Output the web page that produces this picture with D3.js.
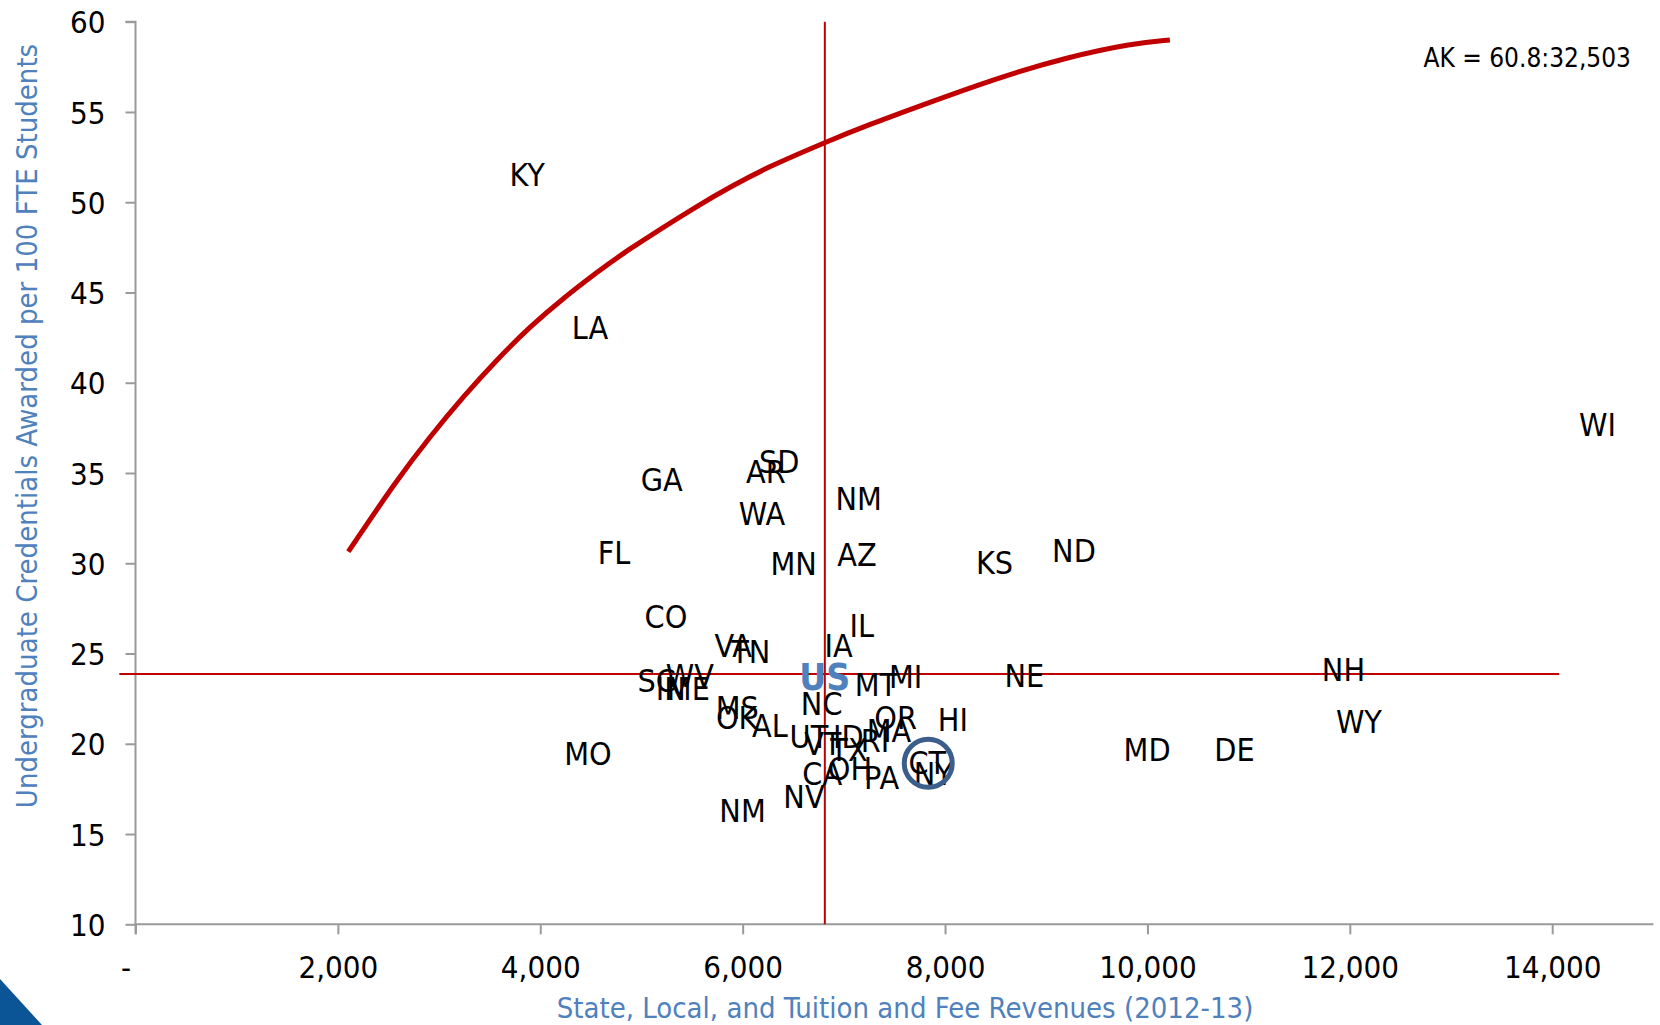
<!DOCTYPE html>
<html>
<head>
<meta charset="utf-8">
<script src="https://cdn.jsdelivr.net/npm/d3@7"></script>
<style>
  html, body { margin: 0; padding: 0; background: #ffffff; }
  svg { display: block; }
  text { font-family: "DejaVu Sans Condensed", "DejaVu Sans", sans-serif; }
</style>
</head>
<body>
<svg id="chart" width="1660" height="1025"></svg>
<script>
// ---- data ----
const states = ["KY","LA","GA","AR","SD","WA","NM","FL","MN","AZ","KS","ND","WI","CO","VA","TN","IL","IA",
  "MI","MT","NE","NH","WY","MD","DE","HI","OR","MA","RI","ID","UT","VT","TX","OH","CA","PA","CT","NY",
  "NV","NM","MO","NC","OK","MS","AL","SC","WV","IN","ME"];
const revenues = [3871,4491,5200,6230,6362,6191,7147,4728,6504,7129,8489,9274,14448,5242,5907,6080,7176,6949,
  7610,7317,8783,11937,12090,9997,10860,8078,7512,7446,7307,7044,6655,6792,7051,7060,6786,7373,7824,7884,
  6606,5999,4471,6781,5941,5947,6270,5151,5479,5289,5463];
const credentials = [51.53,43.07,34.65,35.08,35.63,32.77,33.60,30.61,30.00,30.46,30.04,30.69,37.71,27.04,25.47,25.10,26.54,25.47,
  23.72,23.26,23.81,24.09,21.22,19.66,19.66,21.32,21.47,20.73,20.21,20.39,20.43,20.03,19.66,18.64,18.33,18.14,18.95,18.33,
  17.07,16.33,19.47,22.24,21.47,22.02,21.04,23.53,23.77,23.04,23.04];

const usLabel = "US";
const usRevenue = 6812;
const usCredentials = 23.86;
const usLineRevenueExtent = [-160, 14070];
const usLineCredentialExtent = [10, 60];

const trendRevenue = [2103,2581,2910,3239,3569,3898,4227,4557,4820,5578,5907,6237,6816,7225,7884,8543,9202,9860,10222];
const trendCredentials = [30.64,34.61,37.01,39.23,41.26,43.11,44.68,46.10,47.20,49.90,50.93,51.92,53.32,54.25,55.61,56.93,58.03,58.81,58.99];

const highlightRevenue = 7834;
const highlightCredentials = 18.92;

const xTicks = [0,2000,4000,6000,8000,10000,12000,14000];
const yTicks = [10,15,20,25,30,35,40,45,50,55,60];
const xDomain = [0, 15000];
const yDomain = [10, 60];

const akNote = "AK = 60.8:32,503";
const xTitle = "State, Local, and Tuition and Fee Revenues (2012-13)";
const yTitle = "Undergraduate Credentials Awarded per 100 FTE Students";

// ---- layout ----
const svg = d3.select("#chart");
const x = d3.scaleLinear().domain(xDomain).range([135.5, 1653.4]);
const y = d3.scaleLinear().domain(yDomain).range([924.3, 21.7]);

const red = "#c00000";
const axisColor = "#9a9a9a";
const blue = "#4f81bd";

// decorative corner triangle
svg.append("path")
  .attr("d", "M0,979 L42,1025 L0,1025 Z")
  .attr("fill", "#0b5597");

// axes
const yAxis = d3.axisLeft(y).tickValues(yTicks).tickSize(10).tickPadding(20).tickFormat(d3.format("d"));
const gy = svg.append("g").attr("transform", `translate(${x(0)},0)`).call(yAxis);
gy.attr("font-family", null).attr("font-size", null);
gy.select(".domain").attr("stroke", axisColor).attr("stroke-width", 2).attr("d", `M-10,${y(60)}H0V${y(10)}`);
gy.selectAll(".tick line").attr("stroke", axisColor).attr("stroke-width", 2);
gy.selectAll(".tick text").attr("font-size", 31).attr("fill", "#000").attr("dy", "0.36em");

const fmt = d3.format(",");
const xAxis = d3.axisBottom(x).tickValues(xTicks).tickSize(10).tickPadding(22)
  .tickFormat(d => d === 0 ? "-" : fmt(d));
const gx = svg.append("g").attr("transform", `translate(0,${y(10)})`).call(xAxis);
gx.attr("font-family", null).attr("font-size", null);
gx.select(".domain").attr("stroke", axisColor).attr("stroke-width", 2)
  .attr("d", `M${x(0)},10V0H${x(15000)}`);
gx.selectAll(".tick line").attr("stroke", axisColor).attr("stroke-width", 2);
gx.selectAll(".tick text").attr("font-size", 31).attr("fill", "#000").attr("dy", "0.71em")
  .attr("dx", d => d === 0 ? -10 : 0);

// axis titles
svg.append("text")
  .attr("x", 905).attr("y", 1018)
  .attr("text-anchor", "middle").attr("font-size", 29).attr("fill", blue)
  .text(xTitle);
svg.append("text")
  .attr("transform", "translate(37,426) rotate(-90)")
  .attr("text-anchor", "middle").attr("font-size", 29).attr("fill", blue)
  .text(yTitle);

// US reference lines
svg.append("line")
  .attr("x1", x(usLineRevenueExtent[0])).attr("x2", x(usLineRevenueExtent[1]))
  .attr("y1", y(usCredentials)).attr("y2", y(usCredentials))
  .attr("stroke", red).attr("stroke-width", 2);
svg.append("line")
  .attr("x1", x(usRevenue)).attr("x2", x(usRevenue))
  .attr("y1", y(usLineCredentialExtent[0])).attr("y2", y(usLineCredentialExtent[1]))
  .attr("stroke", red).attr("stroke-width", 2);

// trend curve
const trend = trendRevenue.map((v, i) => [v, trendCredentials[i]]);
svg.append("path")
  .datum(trend)
  .attr("fill", "none").attr("stroke", red).attr("stroke-width", 5)
  .attr("d", d3.line().x(d => x(d[0])).y(d => y(d[1])).curve(d3.curveBasis));

// state labels
const pts = states.map((s, i) => ({ s, r: revenues[i], c: credentials[i] }));
svg.append("g").selectAll("text").data(pts).join("text")
  .attr("x", d => x(d.r)).attr("y", d => y(d.c)).attr("dy", "0.36em")
  .attr("text-anchor", "middle").attr("font-size", 32).attr("fill", "#000")
  .text(d => d.s);

// US label
svg.append("text")
  .attr("x", x(usRevenue)).attr("y", y(usCredentials)).attr("dy", "0.42em")
  .attr("text-anchor", "middle").attr("font-size", 37).attr("font-weight", "bold").attr("fill", blue)
  .text(usLabel);

// highlight circle
svg.append("circle")
  .attr("cx", x(highlightRevenue)).attr("cy", y(highlightCredentials)).attr("r", 24)
  .attr("fill", "none").attr("stroke", "#3b5e8c").attr("stroke-width", 5);

// AK note
svg.append("text")
  .attr("x", 1631).attr("y", 66.5).attr("text-anchor", "end")
  .attr("font-size", 26).attr("fill", "#000")
  .text(akNote);
</script>
</body>
</html>
